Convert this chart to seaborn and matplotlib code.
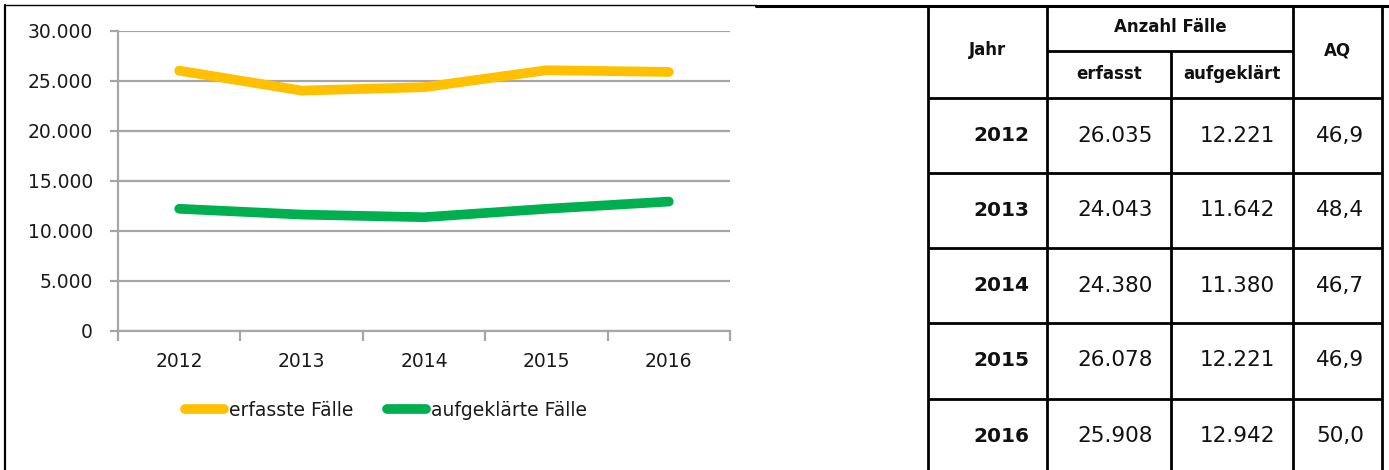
import pandas as pd
import matplotlib
matplotlib.use("Agg")
import matplotlib.pyplot as plt
import seaborn as sns

# Daten
jahre = ["2012", "2013", "2014", "2015", "2016"]
erfasst = [26035, 24043, 24380, 26078, 25908]
aufgeklaert = [12221, 11642, 11380, 12221, 12942]
aq = ["46,9", "48,4", "46,7", "46,9", "50,0"]
reihen = ["erfasste Fälle", "aufgeklärte Fälle"]
farben = {"erfasste Fälle": "#FFC000", "aufgeklärte Fälle": "#00B050"}
yticks = [0, 5000, 10000, 15000, 20000, 25000, 30000]


def de_zahl(v):
    return f"{v:,.0f}".replace(",", ".")


df = pd.DataFrame({
    "Jahr": jahre * 2,
    "Fälle": erfasst + aufgeklaert,
    "Reihe": [reihen[0]] * len(jahre) + [reihen[1]] * len(jahre),
})

sns.set_style("white")
plt.rcParams["font.family"] = ["DejaVu Sans"]
W, H = 1389, 470
fig = plt.figure(figsize=(W / 100, H / 100), dpi=100)

# Overlay in Pixelkoordinaten fuer Rahmen und Tabelle
bg = fig.add_axes([0, 0, 1, 1])
bg.set_xlim(0, W)
bg.set_ylim(H, 0)
bg.axis("off")

# Rahmen des Diagramms
bg.plot([5, 5], [5, H], color="black", lw=1.6)
bg.plot([5, 756], [5, 5], color="black", lw=1.0)
bg.plot([756, W], [6, 6], color="black", lw=2.2)

# ---- Tabelle ----
cols = [928, 1047, 1171, 1293, 1382]
rows = [6, 98, 173, 248, 323, 399]
lw_t = 2.0
for x in cols:
    top = 51 if x == cols[2] else 6
    bg.plot([x, x], [top, H], color="black", lw=lw_t, solid_capstyle="butt")
for y in rows[1:]:
    bg.plot([cols[0], cols[-1]], [y, y], color="black", lw=lw_t, solid_capstyle="butt")
bg.plot([cols[1], cols[3]], [51, 51], color="black", lw=lw_t, solid_capstyle="butt")

kopf = dict(ha="center", va="center", fontsize=12, fontweight="bold", color="#111111")
bg.text((cols[0] + cols[1]) / 2, 50, "Jahr", **kopf)
bg.text((cols[1] + cols[3]) / 2, 27, "Anzahl Fälle", **kopf)
bg.text((cols[1] + cols[2]) / 2, 74, "erfasst", **kopf)
bg.text((cols[2] + cols[3]) / 2, 74, "aufgeklärt", **kopf)
bg.text((cols[3] + cols[4]) / 2, 50, "AQ", **kopf)

for i, j in enumerate(jahre):
    yc = rows[i + 1] + 37.5
    werte = [j, de_zahl(erfasst[i]), de_zahl(aufgeklaert[i]), aq[i]]
    for k, w in enumerate(werte):
        bg.text(cols[k + 1] - 18, yc, w, ha="right", va="center",
                fontsize=14.5 if k == 0 else 15.5,
                fontweight="bold" if k == 0 else "normal", color="#111111")

# ---- Liniendiagramm ----
ax = fig.add_axes([118 / W, (H - 331) / H, (730 - 118) / W, 300 / H])
sns.lineplot(data=df, x="Jahr", y="Fälle", hue="Reihe", palette=farben,
             linewidth=7, sort=False, ax=ax, solid_capstyle="round")

ax.set_xlim(-0.5, len(jahre) - 0.5)
ax.set_ylim(0, 30000)
ax.set_yticks(yticks)
ax.set_yticklabels([de_zahl(v) for v in yticks])
ax.set_xticks(range(len(jahre)))
ax.set_xticklabels(jahre)
ax.set_xticks([x - 0.5 for x in range(len(jahre) + 1)], minor=True)
ax.set_xlabel("")
ax.set_ylabel("")

ax.grid(axis="y", color="#A6A6A6", lw=1.6)
ax.set_axisbelow(True)
for s in ["top", "right"]:
    ax.spines[s].set_visible(False)
for s in ["left", "bottom"]:
    ax.spines[s].set_color("#A6A6A6")
    ax.spines[s].set_linewidth(1.6)

ax.tick_params(axis="y", length=6, width=1.6, color="#A6A6A6", left=True,
               labelsize=13.5, labelcolor="#1a1a1a", pad=12)
ax.tick_params(axis="x", which="major", length=0, labelsize=13.5,
               labelcolor="#1a1a1a", pad=15)
ax.tick_params(axis="x", which="minor", length=7, width=1.6, color="#A6A6A6",
               bottom=True)

handles, labels = ax.get_legend_handles_labels()
ax.get_legend().remove()
for h in handles:
    h.set_linewidth(7)
    h.set_solid_capstyle("round")
leg = fig.legend(handles, labels, loc="center",
                 bbox_to_anchor=(386 / W, (H - 410) / H), ncol=2, frameon=False,
                 handlelength=2.1, handletextpad=0.25, columnspacing=1.8,
                 prop={"size": 13.5})
for t in leg.get_texts():
    t.set_color("#1a1a1a")

fig.savefig("out.png", dpi=100)
